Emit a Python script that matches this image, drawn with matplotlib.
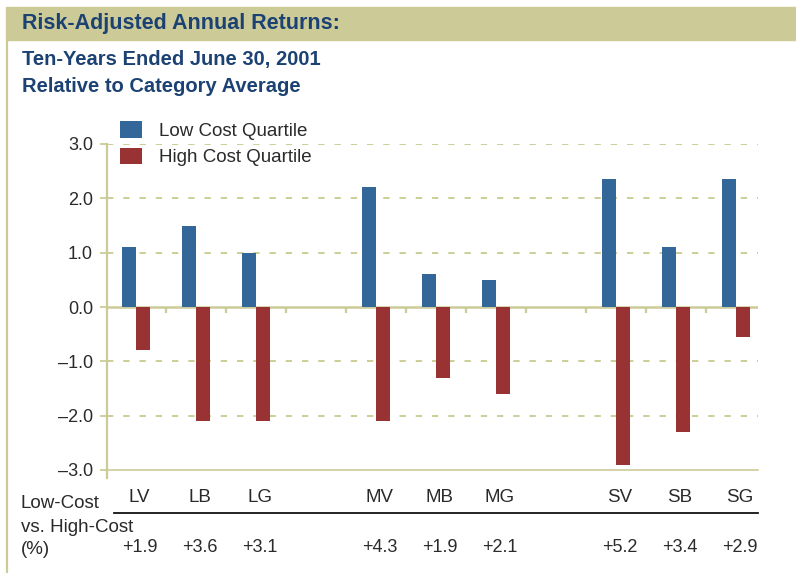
import matplotlib
matplotlib.use("Agg")
import matplotlib.pyplot as plt
import numpy as np
from matplotlib.patches import Rectangle
from matplotlib.lines import Line2D
from matplotlib import transforms

plt.rcParams['font.family'] = ['Liberation Sans', 'DejaVu Sans']

categories = ["LV", "LB", "LG", "MV", "MB", "MG", "SV", "SB", "SG"]
slots = [0, 1, 2, 4, 5, 6, 8, 9, 10]   # one empty slot between L / M / S groups
low_cost = [1.1, 1.5, 1.0, 2.2, 0.6, 0.5, 2.35, 1.1, 2.35]
high_cost = [-0.8, -2.1, -2.1, -2.1, -1.3, -1.6, -2.9, -2.3, -0.55]
spread = ["+1.9", "+3.6", "+3.1", "+4.3", "+1.9", "+2.1", "+5.2", "+3.4", "+2.9"]
yticks = [3.0, 2.0, 1.0, 0.0, -1.0, -2.0, -3.0]
ytick_labels = ["3.0", "2.0", "1.0", "0.0", "\u20131.0", "\u20132.0", "\u20133.0"]

blue = "#336699"
red = "#993333"
olive = "#cccb98"
grid_col = "#c9c98f"
navy = "#1c4273"
txt = "#2a2a2a"

W, H = 796, 573
fig = plt.figure(figsize=(W / 100, H / 100), dpi=100)
ax = fig.add_axes([107 / W, 1 - 470 / H, (758 - 107) / W, (470 - 144) / H])

# header band + left frame line
fig.patches.append(Rectangle((6 / W, 1 - 40 / H), 1, 33 / H, transform=fig.transFigure,
                             color=olive, zorder=0))
fig.lines.append(Line2D([7.5 / W, 7.5 / W], [0, 1 - 40 / H], transform=fig.transFigure,
                        color=olive, linewidth=1.6))

fig.text(22 / W, 1 - 23 / H, "Risk-Adjusted Annual Returns:", fontsize=15.5,
         fontweight="bold", color=navy, va="center", ha="left")
fig.text(22 / W, 1 - 59 / H, "Ten-Years Ended June 30, 2001", fontsize=14.5,
         fontweight="bold", color=navy, va="center", ha="left")
fig.text(22 / W, 1 - 86 / H, "Relative to Category Average", fontsize=14.5,
         fontweight="bold", color=navy, va="center", ha="left")

x = np.asarray(slots, dtype=float)
bw = 0.233
ax.bar(x - bw, low_cost, width=bw, align="edge", color=blue, label="Low Cost Quartile", zorder=3)
ax.bar(x, high_cost, width=bw, align="edge", color=red, label="High Cost Quartile", zorder=3)

for g in [3.0, 2.0, 1.0, -1.0, -2.0]:
    ax.axhline(g, color=grid_col, linewidth=1.3, linestyle=(0, (3.5, 5.5)), zorder=1)
ax.axhline(0, color=olive, linewidth=1.8, zorder=2)
ax.vlines(np.arange(0.5, 10, 1.0), 0, -0.11, color=olive, linewidth=1.6, zorder=2)

ax.set_xlim(-0.483, 10.367)
ax.set_ylim(-3.0, 3.0)
ax.set_yticks(yticks)
ax.set_yticklabels(ytick_labels)
ax.set_xticks([])
ax.tick_params(axis="y", colors=olive, length=5, width=1.3, pad=5, labelsize=13, labelcolor=txt)
for s in ["top", "right"]:
    ax.spines[s].set_visible(False)
ax.spines["left"].set_color(olive)
ax.spines["left"].set_linewidth(1.6)
ax.spines["left"].set_bounds(-3.15, 3.0)
ax.spines["bottom"].set_color(olive)
ax.spines["bottom"].set_linewidth(1.2)
ax.patch.set_alpha(0)

leg = ax.legend(loc="upper left", bbox_to_anchor=(120 / W, 1 - 121 / H),
                bbox_transform=fig.transFigure, frameon=False, fontsize=13.5,
                handlelength=1.17, handleheight=1.0, handletextpad=0.9,
                labelspacing=0.42, borderpad=0, borderaxespad=0)
for t in leg.get_texts():
    t.set_color(txt)

# bottom table
tr = transforms.blended_transform_factory(ax.transData, fig.transFigure)
for xi, cat, sp in zip(slots, categories, spread):
    ax.text(xi + 0.06, 1 - 497 / H, cat, transform=tr, ha="center", va="center",
            fontsize=13.5, color=txt)
    ax.text(xi + 0.06, 1 - 548 / H, sp, transform=tr, ha="center", va="center",
            fontsize=13, color=txt)

fig.text(21 / W, 1 - 503 / H, "Low-Cost", fontsize=13.5, color=txt, va="center")
fig.text(21 / W, 1 - 527 / H, "vs. High-Cost", fontsize=13.5, color=txt, va="center")
fig.text(21 / W, 1 - 549 / H, "(%)", fontsize=13.5, color=txt, va="center")
fig.lines.append(Line2D([114 / W, 758 / W], [1 - 513 / H, 1 - 513 / H],
                        transform=fig.transFigure, color="#111111", linewidth=1.3))

fig.savefig("out.png", dpi=100)
